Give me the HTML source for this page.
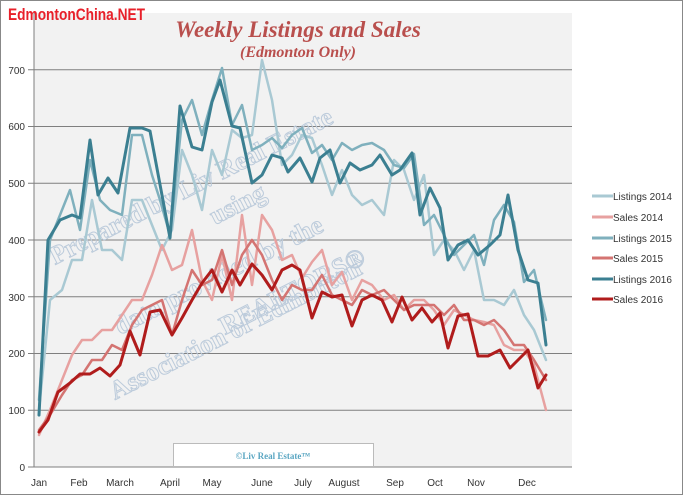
<!DOCTYPE html>
<html><head><meta charset="utf-8"><style>
body{margin:0;background:#fff}
svg{display:block;font-family:"Liberation Sans",sans-serif}
</style></head><body>
<svg width="683" height="495" viewBox="0 0 683 495">
<rect x="0.5" y="0.5" width="682" height="494" fill="#fff" stroke="#888"/>
<rect x="34" y="13" width="538" height="454" fill="#f2f2f2"/>
<g stroke="#7f7f7f" stroke-width="1">
<line x1="28" x2="572" y1="410.2" y2="410.2"/><line x1="28" x2="572" y1="353.5" y2="353.5"/>
<line x1="28" x2="572" y1="296.7" y2="296.7"/><line x1="28" x2="572" y1="240" y2="240"/>
<line x1="28" x2="572" y1="183.2" y2="183.2"/><line x1="28" x2="572" y1="126.5" y2="126.5"/>
<line x1="28" x2="572" y1="69.7" y2="69.7"/><line x1="28" x2="572" y1="467" y2="467"/>
<line x1="34" x2="34" y1="13" y2="467"/>
</g>
<g fill="#333" font-size="10" text-anchor="end">
<text x="25" y="471">0</text><text x="25" y="414">100</text><text x="25" y="357">200</text>
<text x="25" y="301">300</text><text x="25" y="244">400</text><text x="25" y="187">500</text>
<text x="25" y="130">600</text><text x="25" y="74">700</text>
</g>
<g fill="#333" font-size="10" text-anchor="middle">
<text x="39" y="486">Jan</text><text x="79" y="486">Feb</text><text x="120" y="486">March</text>
<text x="170" y="486">April</text><text x="212" y="486">May</text><text x="262" y="486">June</text>
<text x="303" y="486">July</text><text x="344" y="486">August</text><text x="395" y="486">Sep</text>
<text x="435" y="486">Oct</text><text x="476" y="486">Nov</text><text x="527" y="486">Dec</text>
</g>
<text x="8" y="20" font-size="17" font-weight="bold" fill="#e8202a" textLength="137" lengthAdjust="spacingAndGlyphs">EdmontonChina.NET</text>
<text x="298" y="37" font-size="23" font-weight="bold" font-style="italic" fill="#b94f4d" text-anchor="middle" font-family="Liberation Serif,serif">Weekly Listings and Sales</text>
<text x="298" y="57" font-size="16" font-weight="bold" font-style="italic" fill="#b94f4d" text-anchor="middle" font-family="Liberation Serif,serif">(Edmonton Only)</text>
<g font-size="26" font-weight="bold" fill="none" stroke="#bccbdb" stroke-width="1" font-family="Liberation Serif,serif">
<text transform="translate(55,265) rotate(-27)">Prepared by Liv Real Estate</text>
<text transform="translate(215,225) rotate(-27)">using</text>
<text transform="translate(120,335) rotate(-27)">data provided by the</text>
<text transform="translate(225,335) rotate(-27)">REALTORS®</text>
<text transform="translate(115,400) rotate(-27)">Association of Edmonton</text>
</g>
<rect x="173.5" y="443.5" width="200" height="23" fill="#fff" stroke="#bbb"/>
<text x="273" y="459" font-size="9" font-weight="bold" fill="#5aa6c2" text-anchor="middle" font-family="Liberation Serif,serif">©Liv Real Estate™</text>
<g fill="none" stroke-linejoin="round" stroke-linecap="round">
<polyline stroke="#a9c9d3" stroke-width="2.5" points="39,410 50,300 62,290 72,260 82,260 92,200 102,250 112,250 122,260 132,200 142,200 152,225 162,250 172,230 182,150 192,175 202,210 212,150 222,175 232,130 242,138 252,135 262,60 272,100 282,165 292,155 302,135 312,138 322,165 332,195 342,170 352,195 362,205 372,200 384,215 394,160 404,170 414,200 424,175 434,255 444,240 454,250 464,270 474,250 484,300 494,300 504,305 514,290 524,315 534,330 546,360"/>
<polyline stroke="#e7a1a0" stroke-width="2.5" points="39,435 50,410 62,380 72,355 82,340 92,340 102,330 112,330 122,315 132,300 142,300 152,275 162,245 172,270 182,265 192,230 202,280 212,300 222,255 232,300 242,215 252,285 262,215 272,230 282,260 292,255 302,278 312,262 322,250 332,285 342,272 352,300 362,280 372,285 384,300 394,295 404,310 414,300 424,300 434,310 444,325 454,310 464,315 474,320 484,322 494,325 504,345 514,350 524,350 534,365 546,410"/>
<polyline stroke="#7fb0bd" stroke-width="2.5" points="39,400 50,240 60,215 70,190 80,230 90,160 100,200 110,210 122,215 132,135 142,135 152,175 160,200 170,235 182,120 192,100 202,135 212,100 222,68 232,125 242,105 252,150 262,145 272,138 282,148 292,135 302,128 312,153 322,145 332,160 342,143 352,150 362,145 372,143 384,150 394,165 404,168 414,154 424,225 434,215 444,235 454,255 464,245 474,235 484,265 494,220 504,205 514,222 524,282 534,270 546,320"/>
<polyline stroke="#d47472" stroke-width="2.5" points="39,430 50,415 62,395 72,380 82,375 92,360 102,360 112,345 122,350 132,325 142,310 152,305 162,300 172,335 182,300 192,270 202,285 212,280 222,250 232,285 242,255 252,240 262,255 272,280 282,300 292,285 302,290 312,290 322,275 332,295 342,300 352,305 362,290 372,295 384,290 394,300 404,310 414,305 424,305 434,305 444,315 454,305 464,320 474,320 484,325 494,320 504,330 514,345 524,345 534,360 546,380"/>
<polyline stroke="#3b7f91" stroke-width="3" points="39,415 48,240 60,220 72,215 80,218 90,140 98,195 108,178 118,193 130,128 142,128 150,131 170,238 180,106 192,147 202,150 212,102 220,80 232,126 240,128 252,183 262,175 272,155 282,158 288,172 300,158 312,182 320,158 330,150 340,183 350,163 360,170 372,165 380,155 392,175 400,170 412,153 420,215 430,188 440,208 448,260 458,245 468,240 478,255 490,245 500,235 508,195 518,250 528,280 538,283 546,345"/>
<polyline stroke="#b01c1c" stroke-width="3" points="39,432 48,420 58,392 70,383 80,374 90,374 100,368 110,376 120,365 130,331 140,355 150,312 160,310 172,335 182,318 192,300 202,283 212,270 222,292 232,270 240,285 252,264 262,275 272,290 282,270 292,265 300,270 312,318 322,292 332,297 342,295 352,326 362,300 372,295 382,300 392,322 402,297 412,320 422,308 432,322 440,313 448,348 458,316 468,314 478,356 488,356 500,350 510,368 518,360 528,350 538,388 546,375"/>
</g>
<g stroke-width="3">
<line x1="592" x2="613" y1="196" y2="196" stroke="#a9c9d3"/>
<line x1="592" x2="613" y1="217" y2="217" stroke="#e7a1a0"/>
<line x1="592" x2="613" y1="238" y2="238" stroke="#7fb0bd"/>
<line x1="592" x2="613" y1="258" y2="258" stroke="#d47472"/>
<line x1="592" x2="613" y1="279" y2="279" stroke="#3b7f91"/>
<line x1="592" x2="613" y1="299" y2="299" stroke="#b01c1c"/>
</g>
<g font-size="10" fill="#333">
<text x="613" y="200">Listings 2014</text><text x="613" y="221">Sales 2014</text>
<text x="613" y="242">Listings 2015</text><text x="613" y="262">Sales 2015</text>
<text x="613" y="283">Listings 2016</text><text x="613" y="303">Sales 2016</text>
</g>
</svg>
</body></html>
